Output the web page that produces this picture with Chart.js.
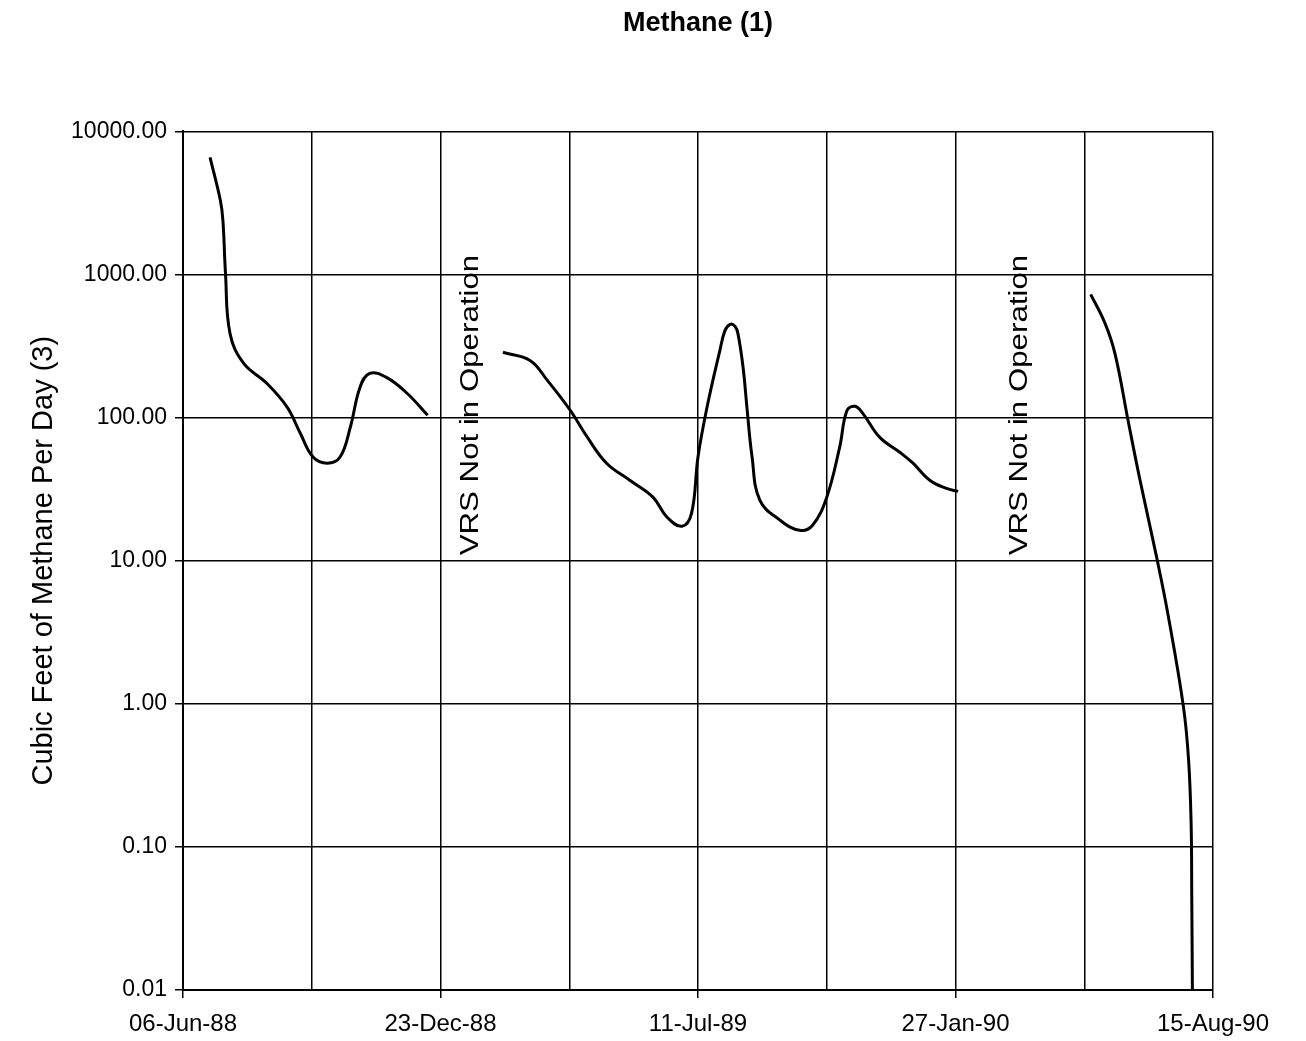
<!DOCTYPE html>
<html>
<head>
<meta charset="utf-8">
<title>Methane (1)</title>
<script src="https://cdn.jsdelivr.net/npm/chart.js@4/dist/chart.umd.min.js"></script>
<style>
  html, body { margin: 0; padding: 0; background: #fff; }
</style>
</head>
<body>
<canvas id="methaneChart" width="1306" height="1041"></canvas>
<script>
// days counted from 06-Jun-88
const seg1_days = [21, 29, 31, 33, 36.5, 47, 65, 81, 91, 101, 112, 122, 130, 137.5, 145, 158, 174, 190]
const seg1_values = [6580, 3300, 2390, 1020, 388, 240, 174, 118, 78, 53, 48, 53, 86, 163, 204, 191, 148, 104]

const seg2_days = [248.5, 269.5, 283, 300.6, 314, 329, 347, 365, 376, 387.6, 395, 400, 407, 417, 421, 425, 428.7, 431, 435, 438, 442, 448, 463.7, 479, 489, 500, 510, 515.7, 522, 528, 541, 557, 567, 580, 593, 602]
const seg2_values = [286, 251, 182, 113, 73, 48, 36.5, 27.8, 20.1, 17.4, 21.5, 53, 118, 295, 407, 449, 435, 388, 225, 118, 53, 26.5, 19.2, 16.3, 17.7, 27.8, 62, 112, 120, 107, 73, 57, 48, 36.5, 32, 30.5]

const seg3_days = [705, 716, 724, 734, 743, 756, 765, 777, 781, 783, 783.5, 784]
const seg3_values = [727, 459, 277, 95.7, 37.7, 10.8, 4.23, 0.96, 0.41, 0.147, 0.046, 0.01]

const x_grid_days = [0, 100, 200, 300, 400, 500, 600, 700, 800]
const x_tick_labels = ['06-Jun-88', '23-Dec-88', '11-Jul-89', '27-Jan-90', '15-Aug-90']
const y_tick_values = [0.01, 0.1, 1, 10, 100, 1000, 10000]

const note_text = 'VRS Not in Operation'
const note_days = [224, 650]

function toPoints (days, values) {
  return days.map((d, i) => ({ x: d, y: values[i] }))
}

function segment (days, values) {
  return {
    data: toPoints(days, values),
    borderColor: '#000',
    borderWidth: 3,
    pointRadius: 0,
    tension: 0.4,
    fill: false
  }
}

// rotated "VRS Not in Operation" notes, stretched along the text like the scan
const vrsNotes = {
  id: 'vrsNotes',
  afterDatasetsDraw (chart) {
    const { ctx, scales } = chart
    ctx.save()
    ctx.font = '25px "Liberation Sans", Arial, sans-serif'
    ctx.fillStyle = '#000'
    ctx.textAlign = 'left'
    ctx.textBaseline = 'middle'
    note_days.forEach(d => {
      ctx.save()
      ctx.translate(scales.x.getPixelForValue(d), scales.y.getPixelForValue(10.9))
      ctx.rotate(-Math.PI / 2)
      ctx.scale(1.25, 1)
      ctx.fillText(note_text, 0, 0)
      ctx.restore()
    })
    ctx.restore()
  }
}

Chart.defaults.font.family = "'Liberation Sans', Arial, sans-serif"
Chart.defaults.color = '#000'

new Chart(document.getElementById('methaneChart').getContext('2d'), {
  type: 'line',
  data: {
    datasets: [
      segment(seg1_days, seg1_values),
      segment(seg2_days, seg2_values),
      segment(seg3_days, seg3_values)
    ]
  },
  plugins: [vrsNotes],
  options: {
    responsive: false,
    animation: false,
    layout: {
      padding: { left: 0, right: 93, top: 0, bottom: 0 }
    },
    plugins: {
      legend: { display: false },
      tooltip: { enabled: false },
      title: {
        display: true,
        text: 'Methane (1)',
        fullSize: false,
        color: '#000',
        font: { size: 27, weight: 'bold' },
        padding: { top: 7, bottom: 92 }
      }
    },
    scales: {
      x: {
        type: 'linear',
        min: 0,
        max: 800,
        afterBuildTicks: scale => {
          scale.ticks = x_grid_days.map(v => ({ value: v }))
        },
        afterFit: scale => {
          scale.height = 51
        },
        ticks: {
          autoSkip: false,
          maxRotation: 0,
          padding: 12,
          color: '#000',
          font: { size: 24 },
          callback: value => (value % 200 === 0 ? x_tick_labels[value / 200] : '')
        },
        grid: {
          color: '#000',
          lineWidth: 1.5,
          tickLength: 8,
          tickColor: ctx => (ctx.index % 2 === 0 ? '#000' : 'rgba(0,0,0,0)')
        },
        border: { color: '#000', width: 2 }
      },
      y: {
        type: 'logarithmic',
        min: 0.01,
        max: 10000,
        afterBuildTicks: scale => {
          scale.ticks = y_tick_values.map(v => ({ value: v }))
        },
        afterFit: scale => {
          scale.width = 183
        },
        ticks: {
          padding: 8,
          color: '#000',
          font: { size: 23 },
          callback: value => Number(value).toFixed(2)
        },
        grid: {
          color: '#000',
          lineWidth: 1.5,
          tickLength: 8
        },
        border: { color: '#000', width: 2 },
        title: {
          display: true,
          text: 'Cubic Feet of Methane Per Day (3)',
          color: '#000',
          font: { size: 29 },
          padding: { top: 27, bottom: 0 }
        }
      }
    }
  }
})
</script>
</body>
</html>
